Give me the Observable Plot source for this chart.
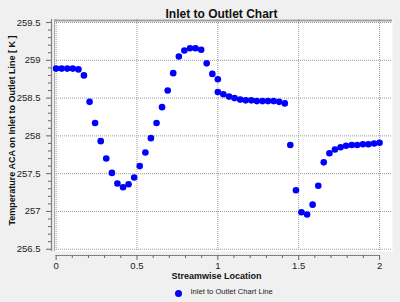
<!DOCTYPE html>
<html><head><meta charset="utf-8">
<script src="https://cdn.jsdelivr.net/npm/d3@7"></script>
<script src="https://cdn.jsdelivr.net/npm/@observablehq/plot@0.6"></script>
<style>html,body{margin:0;padding:0;background:#f0f0f0;} #chart{width:400px;height:302px;}</style>
</head><body><div id="chart"></div>
<script>
// Streamwise location (x) and temperature [K] (y)
const streamwise = [
  0.000, 0.034, 0.069, 0.103, 0.138, 0.172, 0.207, 0.241, 0.276, 0.310,
  0.345, 0.379, 0.414, 0.448, 0.483, 0.517, 0.552, 0.586, 0.621, 0.655,
  0.690, 0.724, 0.759, 0.793, 0.828, 0.862, 0.897, 0.931, 0.966, 1.000,
  1.000, 1.034, 1.069, 1.103, 1.138, 1.172, 1.207, 1.241, 1.276, 1.310,
  1.345, 1.379, 1.414, 1.448, 1.483, 1.517, 1.552, 1.586, 1.621, 1.655,
  1.690, 1.724, 1.759, 1.793, 1.828, 1.862, 1.897, 1.931, 1.966, 2.000
];
const temperature = [
  258.89, 258.89, 258.89, 258.89, 258.88, 258.80, 258.45, 258.17, 257.93, 257.70,
  257.51, 257.37, 257.32, 257.36, 257.45, 257.60, 257.78, 257.97, 258.17, 258.38,
  258.60, 258.83, 259.05, 259.13, 259.16, 259.16, 259.14, 258.96, 258.82, 258.75,
  258.58, 258.55, 258.52, 258.50, 258.48, 258.47, 258.47, 258.46, 258.46, 258.46,
  258.46, 258.45, 258.43, 257.88, 257.28, 256.99, 256.96, 257.09, 257.34, 257.65,
  257.77, 257.82, 257.85, 257.87, 257.88, 257.88, 257.89, 257.89, 257.90, 257.91
];
const xTicks = [0, 0.5, 1, 1.5, 2];
const xTickLabels = ["0", "0.5", "1", "1.5", "2"];
const yTicks = [256.5, 257, 257.5, 258, 258.5, 259, 259.5];
const yTickLabels = ["256.5", "257", "257.5", "258", "258.5", "259", "259.5"];
const xMinor = d3.range(0, 2.001, 0.1).map(v => +v.toFixed(2)).filter(v => !xTicks.includes(v));
const yMinor = d3.range(256.5, 259.501, 0.1).map(v => +v.toFixed(2)).filter(v => !yTicks.includes(v));
const xDomain = [-0.01, 2.08];
const yDomain = [256.47, 259.54];

const title = "Inlet to Outlet Chart";
const xLabel = "Streamwise Location";
const yLabel = "Temperature ACA on Inlet to Outlet Line [ K ]";
const seriesName = "Inlet to Outlet Chart Line";

const data = streamwise.map((x, i) => ({x, y: temperature[i]}));

const font = "'Liberation Sans', Arial, sans-serif";
const chart = Plot.plot({
  width: 400, height: 302,
  marginLeft: 54, marginRight: 8, marginTop: 19, marginBottom: 51,
  style: {background: "#f0f0f0", fontFamily: font, color: "#222"},
  x: {domain: xDomain, label: null},
  y: {domain: yDomain, label: null},
  marks: [
    Plot.frame({fill: "white", stroke: "none"}),
    Plot.gridX(xTicks, {stroke: "#999", strokeOpacity: 1, strokeDasharray: "1,1"}),
    Plot.gridY(yTicks, {stroke: "#999", strokeOpacity: 1, strokeDasharray: "1,1"}),
    Plot.ruleY([yDomain[1]], {stroke: "#a0a0a0", strokeWidth: 2, dy: 1}),
    Plot.ruleX([xDomain[0]], {stroke: "#a8a8a8", strokeWidth: 1}),
    // y axis
    Plot.ruleX([xDomain[0]], {stroke: "#808080", strokeWidth: 1.2, dx: -3}),
    Plot.axisY(yTicks, {anchor: "left", tickSize: 5, tickPadding: 6, dx: -3, stroke: "#666",
      tickFormat: (d, i) => yTickLabels[i], fontSize: 9.5, label: null}),
    Plot.axisY(yMinor, {anchor: "left", tickSize: 3, dx: -3, stroke: "#666", text: null, label: null}),
    // x axis
    Plot.ruleY([yDomain[0]], {x1: xTicks[0], x2: xTicks[xTicks.length - 1], stroke: "#808080", strokeWidth: 1.2, dy: 4}),
    Plot.axisX(xTicks, {anchor: "bottom", tickSize: 5, tickPadding: 2, dy: 4, stroke: "#666",
      tickFormat: (d, i) => xTickLabels[i], fontSize: 9.5, label: null}),
    Plot.axisX(xMinor, {anchor: "bottom", tickSize: 3, dy: 4, stroke: "#666", text: null, label: null}),
    // data
    Plot.dot(data, {x: "x", y: "y", r: 3.3, fill: "#0000ff", stroke: "none"}),
    // texts
    Plot.text([title], {frameAnchor: "top", dx: -2, dy: -10, fontSize: 12, fontWeight: "bold", fill: "#111"}),
    Plot.text([yLabel], {x: () => xDomain[0], y: () => (yDomain[0] + yDomain[1]) / 2, rotate: -90, dx: -42, dy: -5,
      fontSize: 9, fontWeight: "bold", fill: "#111"}),
    Plot.text([xLabel], {frameAnchor: "bottom", dx: -7, dy: 27, fontSize: 9, fontWeight: "bold", fill: "#111"}),
    Plot.dot([seriesName], {frameAnchor: "bottom-left", dx: 124, dy: 42, r: 3.5, fill: "#0000ff", stroke: "none"}),
    Plot.text([seriesName], {frameAnchor: "bottom-left", dx: 136, dy: 42, textAnchor: "start", fontSize: 7.6, fill: "#222"})
  ]
});
document.getElementById("chart").append(chart);
</script>
</body></html>
